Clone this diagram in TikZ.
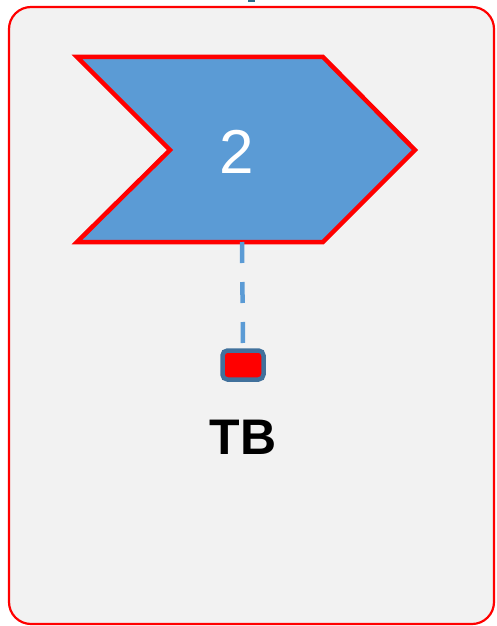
\documentclass[tikz,border=0pt]{standalone}
\usepackage{fontspec}
\setmainfont{Liberation Sans}
\usepackage{tikz}
\usetikzlibrary{positioning}
\definecolor{cardgray}{RGB}{242,242,242}
\definecolor{stepblue}{RGB}{91,155,213}
\definecolor{portblue}{RGB}{65,113,156}
\definecolor{pinteal}{RGB}{40,110,140}
\tikzset{%
	card/.style={
		draw=red,
		fill=cardgray,
		line width=2.2pt,
		rounded corners=22pt
	},
	chevron/.style={
		draw=red,
		fill=stepblue,
		line width=4.5pt,
		line join=miter
	},
	link/.style={
		draw=stepblue,
		line width=4.5pt,
		dash pattern=on 21pt off 19pt
	},
	port/.style={
		rectangle,
		draw=portblue,
		fill=red,
		line width=4.5pt,
		rounded corners=5pt,
		minimum width=41pt,
		minimum height=29pt,
		inner sep=0pt
	},
}

\begin{document}
\begin{tikzpicture}[x=1pt, y=-1pt]
\useasboundingbox (0,0) rectangle (497,626);
% card
\draw[card] (9,7) rectangle (494,624);
\begin{scope}
	\clip (0,0) rectangle (497,626);
	\fill[pinteal] (248,-6) rectangle (255,2);
\end{scope}

% step chevron
\draw[chevron] (77,57) -- (323,57) -- (415,150) -- (323,242) -- (77,242) -- (170,150) -- cycle;
\node[text=white, font=\fontsize{62}{70}\selectfont, inner sep=0pt] (step) at (236.5,151.5) {2};
\coordinate (step-foot) at (242,242);

% port and label
\node[port] (tb-port) at (243,365) {};
\node[font=\fontsize{50}{60}\selectfont\bfseries, below=38pt of tb-port, inner sep=0pt] (tb) {TB};

% link
\draw[link] (step-foot) -- (tb-port.north);

\end{tikzpicture}
\end{document}
